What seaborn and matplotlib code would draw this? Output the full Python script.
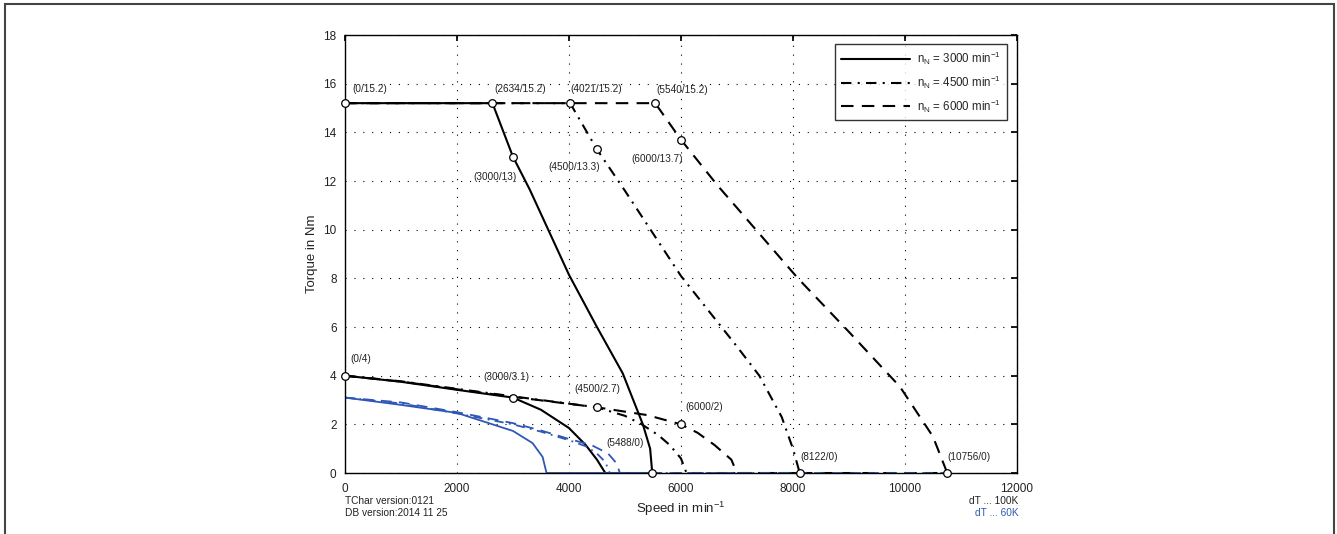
import matplotlib
matplotlib.use("Agg")
import matplotlib.pyplot as plt
import seaborn as sns
import pandas as pd
from matplotlib.patches import Rectangle
from matplotlib.lines import Line2D

# ---- data ----
# 100K curves (black)
s3000_pk = [0, 2634, 3000, 3300, 3600, 4000, 4500, 4960, 5320, 5450, 5488]
t3000_pk = [15.2, 15.2, 13.0, 11.65, 10.15, 8.15, 6.0, 4.1, 2.0, 1.0, 0.0]
s4500_pk = [0, 4021, 4500, 5000, 6000, 7000, 7400, 7800, 8000, 8122]
t4500_pk = [15.2, 15.2, 13.3, 11.6, 8.1, 5.2, 4.0, 2.3, 1.0, 0.0]
s6000_pk = [0, 5540, 6000, 6660, 7000, 8090, 9000, 9910, 10500, 10756]
t6000_pk = [15.2, 15.2, 13.7, 11.8, 10.9, 8.0, 5.8, 3.55, 1.5, 0.0]

s3000_cont = [0, 1000, 2000, 3000, 3500, 4000, 4300, 4500, 4650, 5488]
t3000_cont = [4.0, 3.75, 3.42, 3.1, 2.6, 1.85, 1.15, 0.55, 0.0, 0.0]
s4500_cont = [0, 1000, 2000, 3000, 4500, 5000, 5300, 5600, 5800, 6000, 6100, 8122]
t4500_cont = [4.0, 3.77, 3.46, 3.15, 2.7, 2.35, 2.0, 1.55, 1.15, 0.6, 0.0, 0.0]
s6000_cont = [0, 1000, 2000, 3000, 4500, 5400, 6000, 6300, 6600, 6900, 7000, 10756]
t6000_cont = [4.0, 3.76, 3.44, 3.13, 2.7, 2.38, 2.0, 1.65, 1.15, 0.55, 0.0, 0.0]

# 60K curves (blue)
s3000_60 = [0, 1000, 2000, 3000, 3350, 3530, 3600, 5488]
t3000_60 = [3.1, 2.8, 2.47, 1.73, 1.23, 0.66, 0.0, 0.0]
s4500_60 = [0, 1000, 2000, 3000, 3500, 4000, 4300, 4500, 4650, 4730, 8122]
t4500_60 = [3.1, 2.86, 2.45, 2.0, 1.7, 1.35, 1.1, 0.8, 0.45, 0.0, 0.0]
s6000_60 = [0, 1000, 2000, 3000, 3500, 4000, 4400, 4700, 4850, 4910, 10756]
t6000_60 = [3.1, 2.9, 2.5, 2.05, 1.75, 1.4, 1.15, 0.8, 0.4, 0.0, 0.0]

# annotated points
pt_speed = [0, 2634, 4021, 5540, 3000, 4500, 6000, 0, 3000, 4500, 6000, 5488, 8122, 10756]
pt_torque = [15.2, 15.2, 15.2, 15.2, 13, 13.3, 13.7, 4, 3.1, 2.7, 2, 0, 0, 0]
pt_labels = ["(0/15.2)", "(2634/15.2)", "(4021/15.2)", "(5540/15.2)",
             "(3000/13)", "(4500/13.3)", "(6000/13.7)",
             "(0/4)", "(3000/3.1)", "(4500/2.7)", "(6000/2)",
             "(5488/0)", "(8122/0)", "(10756/0)"]
# label offsets in pixels (left edge, vertical centre)
pt_offsets = [(7, 14), (2, 14), (0, 14), (1, 13),
              (-40, -20), (-49, -18), (-50, -19),
              (5, 17), (-30, 21), (-23, 18), (4, 17),
              (-46, 30), (1, 16), (0, 16)]

legend_labels = ["n$_{\\mathregular{N}}$ = 3000 min$^{\\mathregular{-1}}$",
                 "n$_{\\mathregular{N}}$ = 4500 min$^{\\mathregular{-1}}$",
                 "n$_{\\mathregular{N}}$ = 6000 min$^{\\mathregular{-1}}$"]
x_ticks = [0, 2000, 4000, 6000, 8000, 10000, 12000]
y_ticks = [0, 2, 4, 6, 8, 10, 12, 14, 16, 18]

# ---- style ----
sns.set_theme(style="white")
plt.rcParams['font.family'] = ['Liberation Sans', 'DejaVu Sans']
plt.rcParams['mathtext.fontset'] = 'custom'
plt.rcParams['mathtext.rm'] = 'Liberation Sans'
plt.rcParams['mathtext.it'] = 'Liberation Sans'

fig = plt.figure(figsize=(13.37, 5.34), dpi=100)
ax = fig.add_axes([0.258, 0.1142, 0.5026, 0.8202])

BLUE = "#2F57B5"
TXT = "#222222"
solid = "-"
dashdot = (0, (5, 3, 1, 3))
dashed = (0, (6, 4))

def draw(xs, ys, color, ls, lw):
    df = pd.DataFrame({"speed": xs, "torque": ys})
    sns.lineplot(data=df, x="speed", y="torque", ax=ax, color=color,
                 linestyle=ls, linewidth=lw, sort=False, legend=False)

draw(s3000_pk, t3000_pk, "black", solid, 1.5)
draw(s4500_pk, t4500_pk, "black", dashdot, 1.5)
draw(s6000_pk, t6000_pk, "black", dashed, 1.5)
draw(s3000_cont, t3000_cont, "black", solid, 1.5)
draw(s4500_cont, t4500_cont, "black", dashdot, 1.5)
draw(s6000_cont, t6000_cont, "black", dashed, 1.5)
draw(s3000_60, t3000_60, BLUE, solid, 1.3)
draw(s4500_60, t4500_60, BLUE, dashdot, 1.3)
draw(s6000_60, t6000_60, BLUE, dashed, 1.3)

sns.scatterplot(x=pt_speed, y=pt_torque, ax=ax, s=30, color="white",
                edgecolor="black", linewidth=0.9, zorder=5, clip_on=False)

for x, y, lab, off in zip(pt_speed, pt_torque, pt_labels, pt_offsets):
    ax.annotate(lab, (x, y), xytext=off, textcoords="offset pixels",
                fontsize=7.2, color=TXT, ha="left", va="center")

handles = [Line2D([], [], color="black", linestyle=solid, lw=1.5),
           Line2D([], [], color="black", linestyle=dashdot, lw=1.5),
           Line2D([], [], color="black", linestyle=dashed, lw=1.5)]
leg = ax.legend(handles, legend_labels, loc="upper right", fontsize=8.3,
                frameon=True, fancybox=False, edgecolor="black",
                handlelength=6.0, handletextpad=0.6, borderpad=0.5,
                labelspacing=0.55, borderaxespad=0,
                bbox_to_anchor=(0.985, 0.979))
leg.get_frame().set_linewidth(1.0)

ax.set_xlim(0, 12000)
ax.set_ylim(0, 18)
ax.set_xticks(x_ticks)
ax.set_yticks(y_ticks)
ax.tick_params(direction="in", length=4, labelsize=8.5, top=True, right=True,
               color="black", labelcolor=TXT)
ax.tick_params(axis="x", pad=7)
ax.tick_params(axis="y", pad=6)
ax.grid(True, linestyle=(0, (1, 7)), color="black", linewidth=0.8)
for sp in ax.spines.values():
    sp.set_color("black")
    sp.set_linewidth(1.0)
ax.set_xlabel("Speed in min$^{\\mathregular{-1}}$", fontsize=9.5, labelpad=4, color=TXT)
ax.set_ylabel("Torque in Nm", fontsize=9.5, labelpad=4, color=TXT)

fig.text(0.258, 0.062, "TChar version:0121", fontsize=7.3, color=TXT, va="center")
fig.text(0.258, 0.040, "DB version:2014 11 25", fontsize=7.3, color=TXT, va="center")
fig.text(0.7615, 0.062, "dT ... 100K", fontsize=7.3, color=TXT, ha="right", va="center")
fig.text(0.7615, 0.040, "dT ... 60K", fontsize=7.3, color=BLUE, ha="right", va="center")

fig.patches.append(Rectangle((0.0037, -0.1), 0.9941, 1.0925, transform=fig.transFigure,
                             fill=False, edgecolor="#444444", linewidth=1.5))

fig.savefig("out.png", dpi=100, facecolor="white")
